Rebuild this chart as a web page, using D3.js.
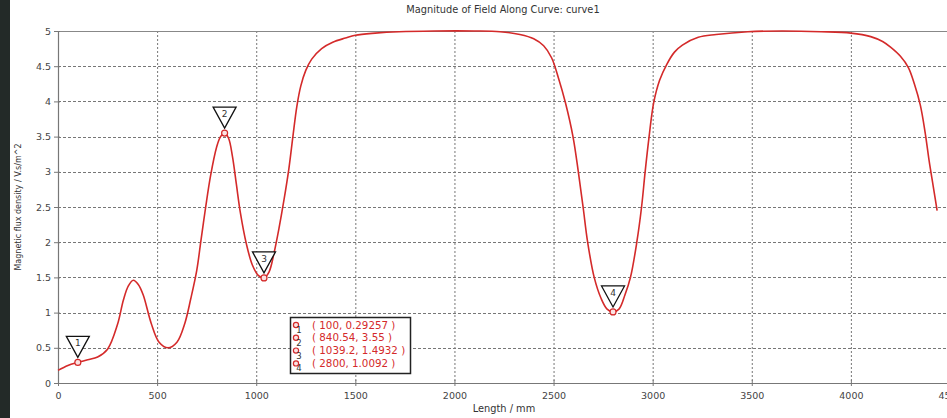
<!DOCTYPE html>
<html>
<head>
<meta charset="utf-8">
<script src="https://cdn.jsdelivr.net/npm/d3@7"></script>
<style>
  html, body { margin: 0; padding: 0; background: #fff; }
  svg { display: block; }
  text { font-family: "DejaVu Sans", Verdana, sans-serif; }
</style>
</head>
<body>
<svg id="chart" width="947" height="418"></svg>
<script>
// ---- data ----
const lengthMm = [0, 50, 100, 150, 200, 250, 300, 330, 355, 380, 405, 430, 470, 510, 555, 600, 640, 670, 700, 720, 745, 770, 800, 820, 840, 860, 880, 900, 920, 950, 980, 1010, 1039, 1065, 1090, 1115, 1140, 1165, 1185, 1205, 1225, 1250, 1280, 1330, 1386, 1450, 1500, 1600, 1720, 1900, 2100, 2230, 2330, 2400, 2450, 2490, 2525, 2560, 2598, 2625, 2649, 2672, 2705, 2740, 2770, 2800, 2830, 2860, 2888, 2920, 2944, 2962, 2982, 3005, 3035, 3070, 3110, 3150, 3230, 3320, 3480, 3650, 3850, 4000, 4100, 4160, 4200, 4250, 4290, 4320, 4350, 4375, 4395, 4415, 4435];
const fluxDensity = [0.18, 0.25, 0.293, 0.33, 0.37, 0.48, 0.83, 1.18, 1.38, 1.46, 1.4, 1.25, 0.85, 0.58, 0.5, 0.58, 0.85, 1.2, 1.6, 2.0, 2.5, 2.95, 3.35, 3.5, 3.55, 3.48, 3.22, 2.82, 2.42, 1.98, 1.68, 1.53, 1.493, 1.58, 1.85, 2.2, 2.6, 3.05, 3.5, 3.93, 4.22, 4.44, 4.6, 4.75, 4.84, 4.9, 4.94, 4.97, 4.99, 5.0, 5.0, 4.99, 4.95, 4.89, 4.79, 4.62, 4.33, 3.98, 3.5, 3.0, 2.5, 2.0, 1.5, 1.2, 1.05, 1.009, 1.05, 1.25, 1.5, 2.0, 2.5, 3.0, 3.5, 3.98, 4.3, 4.52, 4.7, 4.8, 4.91, 4.95, 4.99, 5.0, 4.99, 4.97, 4.92, 4.85, 4.77, 4.64, 4.48, 4.25, 3.95, 3.55, 3.15, 2.8, 2.45];

const markerIds = ["1", "2", "3", "4"];
const markerX = [100, 840.54, 1039.2, 2800];
const markerY = [0.29257, 3.55, 1.4932, 1.0092];
const markerText = ["( 100, 0.29257 )", "( 840.54, 3.55 )", "( 1039.2, 1.4932 )", "( 2800, 1.0092 )"];

const xTicks = [0, 500, 1000, 1500, 2000, 2500, 3000, 3500, 4000, 4500];
const yTicks = [0, 0.5, 1, 1.5, 2, 2.5, 3, 3.5, 4, 4.5, 5];
const xTickLabels = ["0", "500", "1000", "1500", "2000", "2500", "3000", "3500", "4000", "4500"];
const yTickLabels = ["0", "0.5", "1", "1.5", "2", "2.5", "3", "3.5", "4", "4.5", "5"];

const titleText = "Magnitude of Field Along Curve: curve1";
const xTitle = "Length / mm";
const yTitle = "Magnetic flux density / V.s/m^2";

// ---- layout ----
const svg = d3.select("#chart");
const W = 947, H = 418;
const m = { left: 58, top: 31, right: 950, bottom: 383 };
const red = "#d42a2a";

svg.append("rect").attr("x", 0).attr("y", 0).attr("width", W).attr("height", H).attr("fill", "#fff");
svg.append("rect").attr("x", 0).attr("y", 0).attr("width", 10).attr("height", H).attr("fill", "#232a28");

const x = d3.scaleLinear().domain([0, 4500]).range([m.left, m.right]);
const y = d3.scaleLinear().domain([0, 5]).range([m.bottom, m.top]);

// grid
const grid = svg.append("g");
grid.selectAll(".vg").data(xTicks.slice(1)).enter().append("line")
  .attr("x1", d => x(d) + 0.5).attr("x2", d => x(d) + 0.5)
  .attr("y1", m.top).attr("y2", m.bottom)
  .attr("stroke", "#777").attr("stroke-width", 1).attr("stroke-dasharray", "2,2");
grid.selectAll(".hg").data(yTicks.slice(1, -1)).enter().append("line")
  .attr("x1", m.left).attr("x2", m.right)
  .attr("y1", d => Math.round(y(d)) + 0.5).attr("y2", d => Math.round(y(d)) + 0.5)
  .attr("stroke", "#777").attr("stroke-width", 1).attr("stroke-dasharray", "3,2");

// top border
svg.append("line").attr("x1", m.left).attr("x2", m.right)
  .attr("y1", Math.round(y(5)) + 0.5).attr("y2", Math.round(y(5)) + 0.5)
  .attr("stroke", "#888").attr("stroke-width", 1.2);

// axes
const xAxis = d3.axisBottom(x).tickValues(xTicks).tickFormat((d, i) => xTickLabels[i]).tickSize(4).tickSizeOuter(0);
const gx = svg.append("g").attr("transform", `translate(0,${m.bottom})`).call(xAxis);
gx.select(".domain").attr("stroke", "#777").attr("stroke-width", 1.2);
gx.selectAll(".tick line").attr("stroke", "#777").attr("y1", -3).attr("y2", 3);
gx.selectAll(".tick text").attr("fill", "#444").attr("font-size", "9.5px").attr("dy", "0.9em")
  .attr("font-family", "DejaVu Sans, Verdana, sans-serif");

const yAxis = d3.axisLeft(y).tickValues(yTicks).tickFormat((d, i) => yTickLabels[i]).tickSize(4).tickSizeOuter(0);
const gy = svg.append("g").attr("transform", `translate(${m.left},0)`).call(yAxis);
gy.select(".domain").attr("stroke", "#777").attr("stroke-width", 1.2);
gy.selectAll(".tick line").attr("stroke", "#777").attr("x1", -4).attr("x2", 2);
gy.selectAll(".tick text").attr("fill", "#444").attr("font-size", "9.5px").attr("x", -7)
  .attr("font-family", "DejaVu Sans, Verdana, sans-serif");

// titles
svg.append("text").attr("x", 503).attr("y", 12.5).attr("text-anchor", "middle")
  .attr("font-size", "9.8px").attr("fill", "#333").text(titleText);
svg.append("text").attr("x", (m.left + m.right) / 2).attr("y", 412).attr("text-anchor", "middle")
  .attr("font-size", "9.8px").attr("fill", "#333").text(xTitle);
svg.append("text").attr("transform", `translate(21,${(m.top + m.bottom) / 2}) rotate(-90)`)
  .attr("text-anchor", "middle").attr("font-size", "8px").attr("fill", "#333").text(yTitle);

// curve
const pts = lengthMm.map((d, i) => [d, fluxDensity[i]]);
const line = d3.line().x(d => x(d[0])).y(d => y(d[1])).curve(d3.curveCatmullRom.alpha(0.5));
svg.append("path").attr("d", line(pts)).attr("fill", "none")
  .attr("stroke", red).attr("stroke-width", 1.6);

// markers
const mk = svg.append("g");
markerX.forEach((mx, i) => {
  const px = x(mx), py = y(markerY[i]);
  const tipY = py - 5, h = 21, w = 23;
  mk.append("path")
    .attr("d", `M${px - w / 2},${tipY - h} L${px + w / 2},${tipY - h} L${px},${tipY} Z`)
    .attr("fill", "#fff").attr("stroke", "#111").attr("stroke-width", 1.3);
  mk.append("text").attr("x", px).attr("y", tipY - h + 10).attr("text-anchor", "middle")
    .attr("font-size", "9px").attr("fill", "#333").text(markerIds[i]);
  mk.append("circle").attr("cx", px).attr("cy", py).attr("r", 3)
    .attr("fill", "#fbe3e3").attr("stroke", red).attr("stroke-width", 1.2);
});

// legend
const lg = svg.append("g");
const lx = 290, ly = 317, lw = 120, lh = 56;
lg.append("rect").attr("x", lx + 0.5).attr("y", ly + 0.5).attr("width", lw).attr("height", lh)
  .attr("fill", "#fff").attr("stroke", "#222").attr("stroke-width", 1.5);
markerText.forEach((t, i) => {
  const ry = 325 + i * 12.8;
  lg.append("circle").attr("cx", lx + 6).attr("cy", ry).attr("r", 2.6)
    .attr("fill", "#fbe3e3").attr("stroke", red).attr("stroke-width", 1.2);
  lg.append("text").attr("x", lx + 9).attr("y", ry + 8).attr("text-anchor", "middle")
    .attr("font-size", "8.5px").attr("fill", "#333").text(markerIds[i]);
  lg.append("text").attr("x", lx + 22).attr("y", ry + 3.5)
    .attr("font-size", "10.3px").attr("fill", red).text(t);
});
</script>
</body>
</html>
